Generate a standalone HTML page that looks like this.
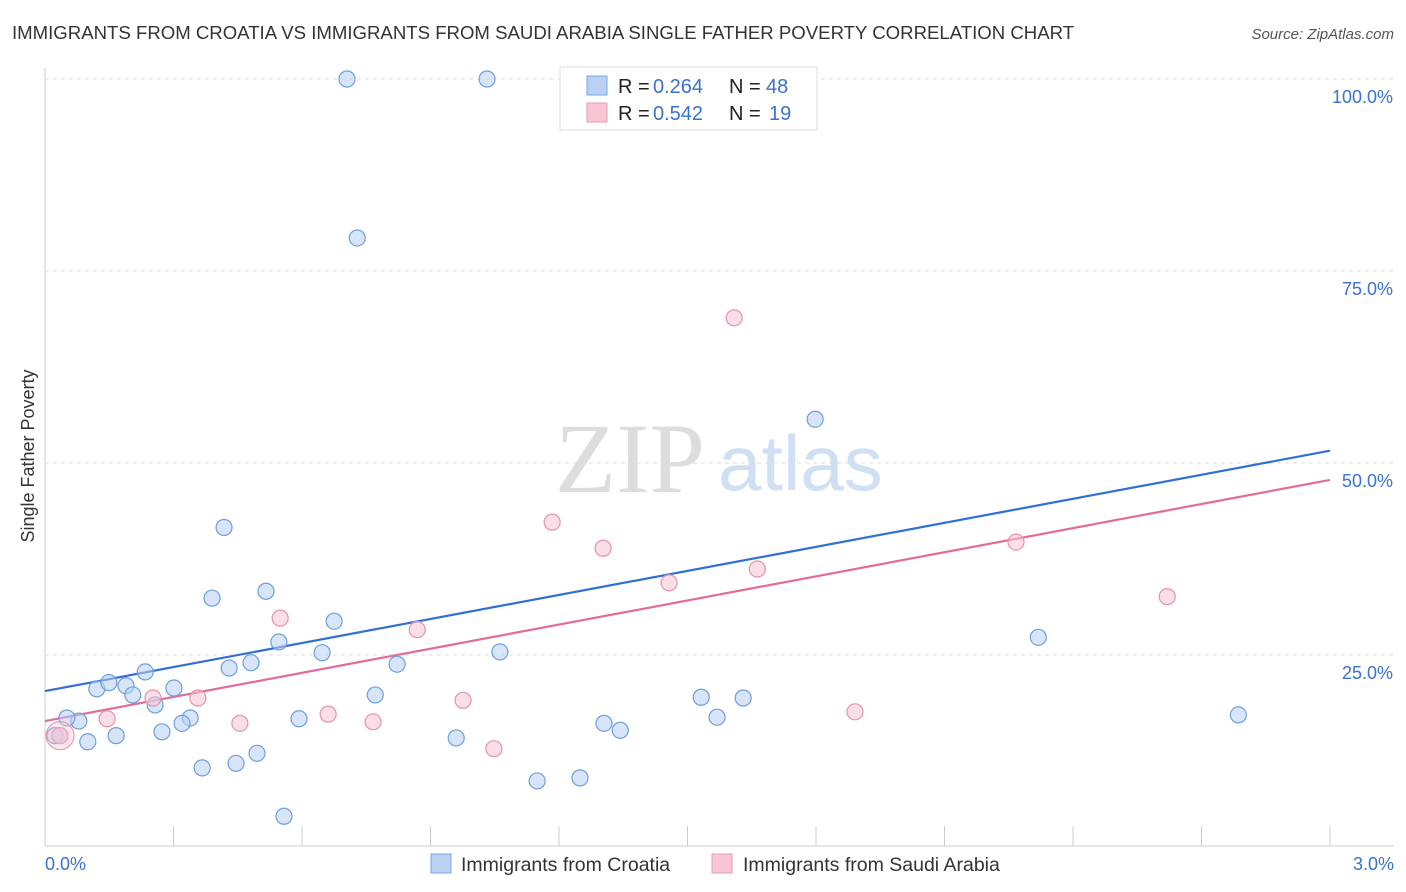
<!DOCTYPE html>
<html><head><meta charset="utf-8"><style>
body{margin:0;background:#fff;font-family:"Liberation Sans",sans-serif}
svg{display:block}
</style></head><body>
<svg id="chart" width="1406" height="892">
<text x="12" y="39" font-size="18.6" fill="#333">IMMIGRANTS FROM CROATIA VS IMMIGRANTS FROM SAUDI ARABIA SINGLE FATHER POVERTY CORRELATION CHART</text>
<text x="1394" y="39" font-size="15" fill="#555" font-style="italic" text-anchor="end">Source: ZipAtlas.com</text>
<text x="555" y="492" font-size="100" fill="#ddd" font-family="Liberation Serif,serif">ZIP</text>
<text x="718" y="490" font-size="78" fill="#cfe0f5">atlas</text>
<text transform="translate(34,456) rotate(-90)" font-size="18" fill="#333" text-anchor="middle">Single Father Poverty</text>
<g id="grid"></g><g id="trend"></g><g id="pts"></g>
<g>
<rect x="560" y="67" width="257" height="63" fill="#fff" stroke="#ddd"/>
<rect x="587" y="76" width="20" height="19" fill="#b8d0f2" stroke="#7aa6e4"/>
<rect x="587" y="103" width="20" height="19" fill="#f8c5d4" stroke="#ec9ab4"/>
<text x="618" y="93" font-size="20" fill="#222">R =</text>
<text x="653" y="93" font-size="20" fill="#3a72cf">0.264</text>
<text x="729" y="93" font-size="20" fill="#222">N =</text>
<text x="766" y="93" font-size="20" fill="#3a72cf">48</text>
<text x="618" y="120" font-size="20" fill="#222">R =</text>
<text x="653" y="120" font-size="20" fill="#3a72cf">0.542</text>
<text x="729" y="120" font-size="20" fill="#222">N =</text>
<text x="769" y="120" font-size="20" fill="#3a72cf">19</text>
</g>
<g>
<rect x="431" y="854" width="20" height="19" fill="#b8d0f2" stroke="#7aa6e4"/>
<text x="461" y="871" font-size="19.5" fill="#333">Immigrants from Croatia</text>
<rect x="712" y="854" width="20" height="19" fill="#f8c5d4" stroke="#ec9ab4"/>
<text x="743" y="871" font-size="19.5" fill="#333">Immigrants from Saudi Arabia</text>
</g>
<text x="45" y="870" font-size="18" fill="#3a72cf">0.0%</text>
<text x="1394" y="870" font-size="18" fill="#3a72cf" text-anchor="end">3.0%</text>
</svg>
<script>
const yTicks=[25,50,75,100];
const yTickLabels=["25.0%","50.0%","75.0%","100.0%"];
const xTicks=[0,0.3,0.6,0.9,1.2,1.5,1.8,2.1,2.4,2.7,3.0];
const croatiaX=[0.705,1.032,1.380,1.768,0.729,1.798,0.418,0.390,0.516,0.675,0.546,0.647,0.481,0.430,0.234,0.301,0.121,0.149,0.189,0.205,0.257,0.771,0.822,1.062,2.319,1.532,1.630,1.569,1.305,1.343,2.786,0.593,0.339,0.320,0.273,0.079,0.051,0.166,0.100,0.023,0.035,0.960,0.495,0.446,0.367,1.149,1.249,0.558];
const croatiaY=[100,100,100,100,79.3,55.7,41.6,32.4,33.3,29.4,26.7,25.3,24.0,23.3,22.8,20.7,20.6,21.4,21.0,19.8,18.5,19.8,23.8,25.4,27.3,19.5,19.4,16.9,16.1,15.2,17.2,16.7,16.8,16.1,15.0,16.4,16.8,14.5,13.7,14.5,14.5,14.2,12.2,10.9,10.3,8.6,9.0,4.0];
const saudiX=[1.609,1.184,1.303,2.267,1.457,1.663,2.620,0.549,0.869,0.252,0.357,0.976,0.661,1.891,0.455,0.766,0.145,1.048,0.035];
const saudiY=[68.9,42.3,38.9,39.7,34.4,36.2,32.6,29.8,28.3,19.4,19.4,19.1,17.3,17.6,16.1,16.3,16.7,12.8,14.5];
const croatiaTrend=[20.3,51.6];
const saudiTrend=[16.4,47.8];
const X=v=>45+v/3*1285, Y=v=>847-v*7.68;
const NS="http://www.w3.org/2000/svg";
function mk(t,a,p){const e=document.createElementNS(NS,t);for(const k in a)e.setAttribute(k,a[k]);p.appendChild(e);return e;}
const g=document.getElementById('grid');
yTicks.forEach((t,i)=>{
 const l=mk('line',{x1:45,x2:1394,y1:Y(t),y2:Y(t),stroke:'#ddd','stroke-dasharray':'4,4'},g);
 
 
 const tx=mk('text',{x:1393,y:Y(t)+24,'font-size':18,fill:'#3a72cf','text-anchor':'end'},g);
 tx.textContent=yTickLabels[i];
 
 
});
const ya=mk('line',{x1:45,x2:45,y1:68,y2:846,stroke:'#ccc'},g);


const xa=mk('line',{x1:45,x2:1394,y1:846,y2:846,stroke:'#ccc'},g);


xTicks.forEach(t=>{
 const l=mk('line',{x1:X(t),x2:X(t),y1:826,y2:846,stroke:'#ccc'},g);
 
 
});
const tr=document.getElementById('trend');
const p=document.getElementById('pts');
function pts(xs,ys,fill,stroke,name){
 xs.forEach((x,i)=>{
  const c=mk('circle',{cx:X(x),cy:Y(ys[i]),r:8,fill:fill,'fill-opacity':0.55,stroke:stroke,'stroke-width':1.2},p);
  
  
 });
}
pts(croatiaX,croatiaY,'#b8d0f2','#6c9ee0','croatia-point');
pts(saudiX,saudiY,'#f8c5d4','#e890ac','saudi-point');
const big=mk('circle',{cx:X(0.035),cy:Y(14.5),r:14,fill:'#f8c5d4','fill-opacity':0.4,stroke:'#e890ac'},p);


const l1=mk('line',{x1:X(0),y1:Y(croatiaTrend[0]),x2:X(3),y2:Y(croatiaTrend[1]),stroke:'#2f6fd6','stroke-width':2.2},tr);


const l2=mk('line',{x1:X(0),y1:Y(saudiTrend[0]),x2:X(3),y2:Y(saudiTrend[1]),stroke:'#e36b98','stroke-width':2.2},tr);


</script>
</body></html>
